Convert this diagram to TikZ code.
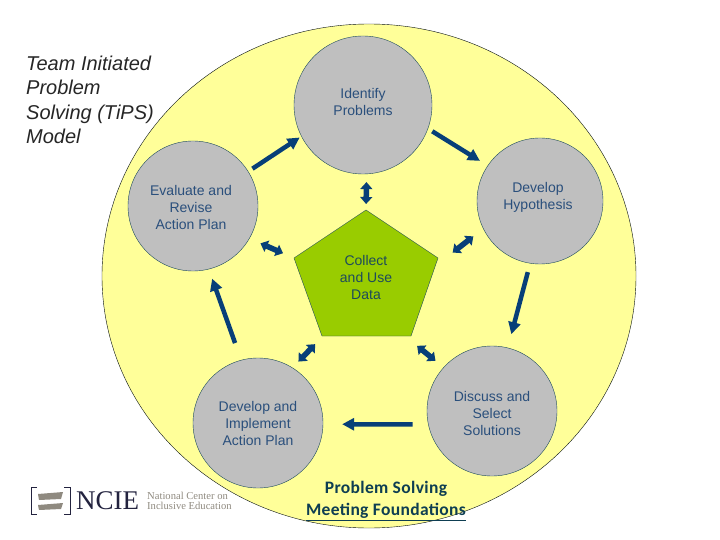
\documentclass[tikz,border=0pt]{standalone}
\usepackage{fontspec}
\setmainfont{Liberation Sans}
\newfontfamily\calibrifont[LetterSpace=2]{Carlito}
\newfontfamily\serifont{Liberation Serif}
\usepackage{tikz}
\usetikzlibrary{arrows.meta}
\definecolor{ncyellow}{HTML}{FFFF99}
\definecolor{ncgrey}{HTML}{BFBFBF}
\definecolor{ncgreen}{HTML}{99CC00}
\definecolor{ncline}{HTML}{1D4A5C}
\definecolor{ncblue}{HTML}{073F78}
\definecolor{nctext}{HTML}{2A4F7C}
\definecolor{nccaption}{HTML}{0E3E52}
\definecolor{nclogo}{HTML}{23233F}
\definecolor{nclogogrey}{HTML}{8F8A80}
\tikzset{
    stage/.style={
           circle,
           draw=ncline,
           fill=ncgrey,
           inner sep=0pt,
           },
    stagetext/.style={
           align=center,
           text=nctext,
           inner sep=0pt,
           font=\fontsize{14}{17}\selectfont,
           },
    flow/.style={
           -{Triangle[length=12pt,width=12pt]},
           draw=ncblue,
           line width=4.5pt,
           },
    link/.style={
           {Triangle[length=7pt,width=12pt]}-{Triangle[length=7pt,width=12pt]},
           draw=ncblue,
           line width=5.5pt,
           },
}

\begin{document}
\begin{tikzpicture}[x=1pt,y=-1pt]
 \useasboundingbox (0,0) rectangle (720,540);

 % Background ellipse
 \draw[fill=ncyellow,draw=black!80!ncline] (369,276) ellipse (267 and 252);

 % The five stages around the ellipse
 \node[stage,minimum size=138pt] (Identify) at (363,105) {};
 \node[stage,minimum size=126pt] (Hypothesis) at (540,201) {};
 \node[stage,minimum size=130pt] (Discuss) at (492,411) {};
 \node[stage,minimum size=130pt] (Implement) at (258,423) {};
 \node[stage,minimum size=130pt] (Evaluate) at (193,206) {};

 % Texts sit a little off the centre of the circles
 \node[stagetext] (IdentifyText) at (363,101.5) {Identify\\Problems};
 \node[stagetext] (HypothesisText) at (538,197) {Develop\\Hypothesis};
 \node[stagetext] (DiscussText) at (492,413.5) {Discuss and\\Select\\Solutions};
 \node[stagetext] (ImplementText) at (258,423) {Develop and\\Implement\\Action Plan};
 \node[stagetext] (EvaluateText) at (191,207) {Evaluate and\\Revise\\Action Plan};

 % Pentagon in the middle
 \coordinate (CollectN) at (366,210);
 \coordinate (CollectW) at (294,258);
 \coordinate (CollectE) at (438,264);
 \coordinate (CollectSW) at (323,336);
 \coordinate (CollectSE) at (405,336);
 \draw[fill=ncgreen,draw=ncline] (366,210) -- (438,258) -- (411,336) -- (322,336) -- (294,258) -- cycle;
 \node[stagetext,text=ncline] (Collect) at (366,277) {Collect\\and Use\\Data};

 % Arrows of the cycle
 \draw[flow,shorten <=5pt,shorten >=2pt] (Evaluate.32.8) -- (Identify.207.6);
 \draw[flow,shorten <=5pt,shorten >=9pt] (Identify.-20.6) -- (Hypothesis.146);
 \draw[flow,shorten <=9pt,shorten >=14pt] (Hypothesis.-99.6) -- (Discuss.76.8);
 \draw[flow,shorten <=15.5pt,shorten >=19pt] (Discuss.192) -- (Implement.-1.4);
 \draw[flow,shorten <=18pt,shorten >=10pt] (Implement.105.4) -- (Evaluate.-76.9);

 % Short arrows to the pentagon
 \draw[link,shorten <=8pt,shorten >=6pt] (Identify.-87.5) -- (CollectN);
 \draw[link,shorten <=12pt,shorten >=12pt] (Evaluate.-30.4) -- (CollectW);
 \draw[link,shorten <=12.5pt,shorten >=18.6pt] (Hypothesis.206.9) -- (CollectE);
 \draw[link,shorten <=8.5pt,shorten >=11.3pt] (Implement.58.3) -- (CollectSW);
 \draw[link,shorten <=10.4pt,shorten >=15.6pt] (Discuss.138.6) -- (CollectSE);

 % Title and caption
 \node[inner sep=0pt,anchor=north west,align=left,text=black!85,
 font=\fontsize{20}{24.3}\itshape\selectfont] (Title) at (26,56)
 {Team Initiated\\Problem\\Solving (TiPS)\\Model};
 \node[inner sep=0pt,align=center,text=nccaption,
 font=\fontsize{17.5}{22}\calibrifont\bfseries\selectfont] (Caption) at (386,501)
 {Problem Solving\\\underline{Meeting Foundations}};

 % Logo
 \draw[nclogo,line width=1pt] (37,487) -- (31,487) -- (31,514) -- (37,514);
 \draw[nclogo,line width=1pt] (64,487) -- (70,487) -- (70,514) -- (64,514);
 \fill[nclogogrey] (38,494) -- (63,492) -- (61,499) -- (39,500) -- cycle;
 \fill[nclogogrey] (38,505) -- (63,503) -- (61,509) -- (39,510) -- cycle;
 \node[inner sep=0pt,anchor=west,text=nclogo,
 font=\fontsize{27}{27}\serifont\selectfont] (Logo) at (76,501) {NCIE};
 \node[inner sep=0pt,anchor=west,align=left,text=nclogogrey,
 font=\fontsize{10.6}{10.5}\serifont\selectfont] (LogoText) at (147,501)
 {National Center on\\Inclusive Education};
\end{tikzpicture}
\end{document}
